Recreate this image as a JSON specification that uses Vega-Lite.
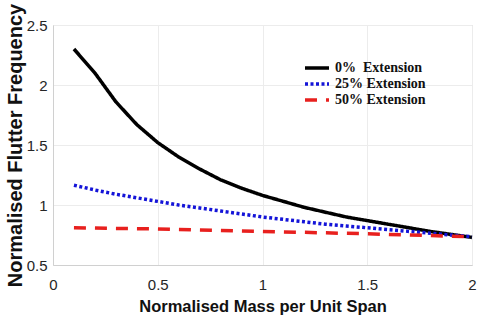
{
  "$schema": "https://vega.github.io/schema/vega-lite/v6.json",
  "width": 419,
  "height": 240,
  "autosize": "none",
  "padding": {"left": 53, "top": 25, "right": 7, "bottom": 55},
  "background": "white",
  "config": {
    "view": {"stroke": "#d0d0d0", "strokeWidth": 1},
    "axis": {
      "labelFont": "Liberation Sans",
      "labelFontSize": 15,
      "labelColor": "#262626",
      "titleFont": "Liberation Sans",
      "titleFontWeight": "bold",
      "titleColor": "#111111",
      "gridColor": "#ececec",
      "gridWidth": 1,
      "domainColor": "#d0d0d0",
      "ticks": false,
      "format": "~g"
    }
  },
  "data": {
    "values": [
      {"m": 0.1, "f": 2.30, "s": "0%\u00a0\u00a0Extension"},
      {"m": 0.2, "f": 2.10, "s": "0%\u00a0\u00a0Extension"},
      {"m": 0.3, "f": 1.86, "s": "0%\u00a0\u00a0Extension"},
      {"m": 0.4, "f": 1.67, "s": "0%\u00a0\u00a0Extension"},
      {"m": 0.5, "f": 1.52, "s": "0%\u00a0\u00a0Extension"},
      {"m": 0.6, "f": 1.40, "s": "0%\u00a0\u00a0Extension"},
      {"m": 0.7, "f": 1.30, "s": "0%\u00a0\u00a0Extension"},
      {"m": 0.8, "f": 1.21, "s": "0%\u00a0\u00a0Extension"},
      {"m": 0.9, "f": 1.14, "s": "0%\u00a0\u00a0Extension"},
      {"m": 1.0, "f": 1.08, "s": "0%\u00a0\u00a0Extension"},
      {"m": 1.1, "f": 1.03, "s": "0%\u00a0\u00a0Extension"},
      {"m": 1.2, "f": 0.98, "s": "0%\u00a0\u00a0Extension"},
      {"m": 1.3, "f": 0.94, "s": "0%\u00a0\u00a0Extension"},
      {"m": 1.4, "f": 0.90, "s": "0%\u00a0\u00a0Extension"},
      {"m": 1.5, "f": 0.87, "s": "0%\u00a0\u00a0Extension"},
      {"m": 1.6, "f": 0.84, "s": "0%\u00a0\u00a0Extension"},
      {"m": 1.7, "f": 0.81, "s": "0%\u00a0\u00a0Extension"},
      {"m": 1.8, "f": 0.78, "s": "0%\u00a0\u00a0Extension"},
      {"m": 1.9, "f": 0.755, "s": "0%\u00a0\u00a0Extension"},
      {"m": 2.0, "f": 0.73, "s": "0%\u00a0\u00a0Extension"},
      {"m": 0.1, "f": 1.165, "s": "25% Extension"},
      {"m": 0.2, "f": 1.125, "s": "25% Extension"},
      {"m": 0.3, "f": 1.09, "s": "25% Extension"},
      {"m": 0.4, "f": 1.06, "s": "25% Extension"},
      {"m": 0.5, "f": 1.03, "s": "25% Extension"},
      {"m": 0.6, "f": 1.0, "s": "25% Extension"},
      {"m": 0.7, "f": 0.975, "s": "25% Extension"},
      {"m": 0.8, "f": 0.95, "s": "25% Extension"},
      {"m": 0.9, "f": 0.925, "s": "25% Extension"},
      {"m": 1.0, "f": 0.90, "s": "25% Extension"},
      {"m": 1.1, "f": 0.88, "s": "25% Extension"},
      {"m": 1.2, "f": 0.86, "s": "25% Extension"},
      {"m": 1.3, "f": 0.84, "s": "25% Extension"},
      {"m": 1.4, "f": 0.825, "s": "25% Extension"},
      {"m": 1.5, "f": 0.81, "s": "25% Extension"},
      {"m": 1.6, "f": 0.795, "s": "25% Extension"},
      {"m": 1.7, "f": 0.78, "s": "25% Extension"},
      {"m": 1.8, "f": 0.765, "s": "25% Extension"},
      {"m": 1.9, "f": 0.75, "s": "25% Extension"},
      {"m": 2.0, "f": 0.735, "s": "25% Extension"},
      {"m": 0.1, "f": 0.81, "s": "50% Extension"},
      {"m": 0.5, "f": 0.80, "s": "50% Extension"},
      {"m": 1.0, "f": 0.78, "s": "50% Extension"},
      {"m": 1.5, "f": 0.76, "s": "50% Extension"},
      {"m": 2.0, "f": 0.735, "s": "50% Extension"}
    ]
  },
  "mark": {"type": "line", "strokeWidth": 3.5, "strokeCap": "butt"},
  "encoding": {
    "x": {
      "field": "m",
      "type": "quantitative",
      "scale": {"domain": [0, 2], "nice": false},
      "axis": {"values": [0, 0.5, 1, 1.5, 2], "title": "Normalised Mass per Unit Span", "titleFontSize": 16.5, "labelPadding": 12, "titlePadding": 6, "labelFlush": false}
    },
    "y": {
      "field": "f",
      "type": "quantitative",
      "scale": {"domain": [0.5, 2.5], "nice": false, "zero": false},
      "axis": {"values": [0.5, 1, 1.5, 2, 2.5], "title": "Normalised Flutter Frequency", "titleFontSize": 20, "labelPadding": 6, "titlePadding": 1, "labelFlush": false}
    },
    "color": {
      "field": "s",
      "type": "nominal",
      "scale": {"domain": ["0%\u00a0\u00a0Extension", "25% Extension", "50% Extension"], "range": ["#000000", "#1414d8", "#e8201e"]},
      "legend": {
        "title": null,
        "orient": "none",
        "legendX": 256,
        "legendY": 35,
        "padding": 0,
        "symbolType": "M-2,0H2",
        "symbolSize": 144,
        "symbolStrokeWidth": 3.5,
        "labelFont": "Liberation Serif",
        "labelFontWeight": "bold",
        "labelFontSize": 14,
        "labelColor": "#111111",
        "labelOffset": 10,
        "rowPadding": 1
      }
    },
    "strokeDash": {
      "field": "s",
      "type": "nominal",
      "scale": {"domain": ["0%\u00a0\u00a0Extension", "25% Extension", "50% Extension"], "range": [[1, 0], [3, 2.5], [12, 9]]},
      "legend": null
    }
  }
}
